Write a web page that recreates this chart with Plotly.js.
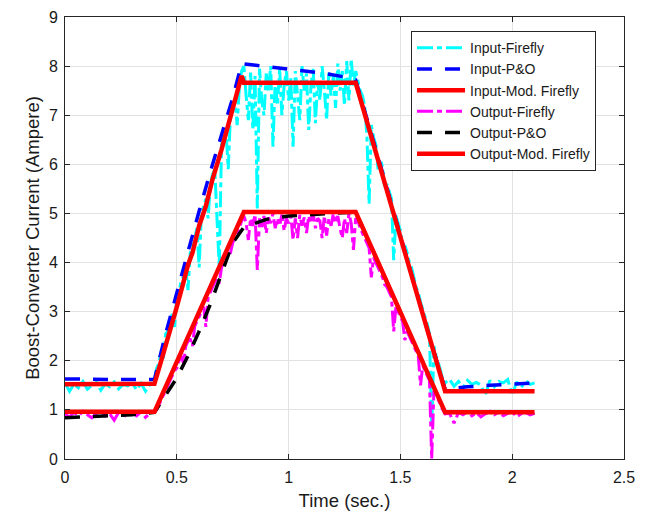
<!DOCTYPE html>
<html>
<head>
<meta charset="utf-8">
<script src="https://cdn.plot.ly/plotly-3.0.1.min.js"></script>
<style>html,body{margin:0;padding:0;background:#fff;}#chart{width:646px;height:514px;}</style>
</head>
<body>
<div id="chart"></div>
<script>
// Firefly sample times (s)
const tFirefly = [
  0,0.02,0.04,0.06,0.08,0.1,0.12,0.14,0.16,0.18,0.2,0.22,0.24,0.26,0.28,0.3,0.32,0.34,0.36,0.38,
  0.4,0.41,0.42,0.43,0.44,0.45,0.46,0.47,0.48,0.49,0.5,0.51,0.52,0.53,0.54,0.55,0.56,0.57,0.58,0.59,
  0.6,0.61,0.62,0.63,0.64,0.65,0.66,0.67,0.68,0.69,0.7,0.71,0.72,0.73,0.74,0.75,0.76,0.77,0.78,0.79,
  0.8,0.81,0.82,0.83,0.84,0.85,0.86,0.87,0.88,0.89,0.9,0.91,0.92,0.93,0.94,0.95,0.96,0.97,0.98,0.99,
  1.0,1.01,1.02,1.03,1.04,1.05,1.06,1.07,1.08,1.09,1.1,1.11,1.12,1.13,1.14,1.15,1.16,1.17,1.18,1.19,
  1.2,1.21,1.22,1.23,1.24,1.25,1.26,1.27,1.28,1.29,1.3,
  1.31,1.32,1.33,1.34,1.35,1.36,1.37,1.38,1.39,1.4,1.41,1.42,1.43,1.44,1.45,1.46,1.47,1.48,1.49,1.5,
  1.51,1.52,1.53,1.54,1.55,1.56,1.57,1.58,1.59,1.6,1.61,1.62,1.63,1.64,1.65,1.66,1.67,1.68,1.69,1.7,
  1.72,1.74,1.76,1.78,1.8,1.82,1.84,1.86,1.88,1.9,1.92,1.94,1.96,1.98,2.0,2.02,2.04,2.06,2.08,2.1
];
const inputFirefly = [
  1.55,1.38,1.52,1.45,1.58,1.42,1.50,1.56,1.40,1.53,1.47,1.57,1.43,1.52,1.49,1.55,1.41,1.54,1.38,1.52,
  1.6,1.85,1.95,2.2,2.05,2.55,2.6,2.85,2.95,2.69,3.3,3.4,3.65,3.7,3.9,3.44,4.2,4.4,4.5,4.7,
  3.9,5.0,5.15,5.3,4.9,5.6,5.8,5.9,4.87,3.9,6.4,6.55,6.7,5.9,7.0,7.2,7.3,6.8,7.6,7.9,
  8.0,7.4,6.9,7.9,6.7,7.8,5.1,7.95,7.3,7.0,7.85,7.5,8.0,6.36,7.7,7.2,7.95,7.0,7.6,7.9,
  7.3,7.75,6.36,7.9,7.4,6.9,8.0,7.5,7.85,6.7,7.6,7.95,6.84,7.7,7.3,8.0,7.5,6.9,7.9,7.4,
  7.8,7.15,8.05,7.5,7.9,7.2,8.1,7.3,8.15,7.6,7.9,
  7.7,7.5,7.4,7.2,6.6,5.2,6.8,6.55,6.4,5.9,6.1,5.95,5.5,5.6,5.45,5.3,4.05,4.95,4.8,4.65,
  4.3,4.35,4.2,4.0,3.9,3.7,3.5,3.4,3.2,3.05,2.9,2.75,2.55,0.65,2.3,2.1,1.95,1.8,1.6,1.55,
  1.62,1.48,1.58,1.45,1.6,1.52,1.56,1.5,1.3,1.6,1.47,1.58,1.55,1.62,1.3,1.57,1.45,1.6,1.52,1.55
];
const outputFirefly = [
  0.92,0.85,0.95,0.88,0.97,0.9,0.84,0.93,0.96,0.87,0.92,0.79,0.95,0.9,0.86,0.94,0.88,0.96,0.85,0.93,
  0.98,1.0,1.1,1.2,1.3,1.38,1.5,1.6,1.7,1.8,1.85,2.0,2.1,1.95,2.3,2.4,2.45,2.3,2.7,2.8,
  2.9,3.0,3.1,2.69,3.3,3.4,3.5,3.6,3.7,3.58,3.9,4.0,4.1,4.2,4.2,4.4,4.5,4.6,4.7,4.85,
  4.95,4.8,4.46,4.9,4.75,4.98,3.85,4.9,4.7,4.95,4.6,4.92,4.8,5.0,4.7,4.9,4.75,4.98,4.65,4.9,
  4.8,4.95,4.46,4.9,4.5,4.97,4.75,4.92,4.6,4.95,4.8,5.0,4.7,4.9,4.85,4.5,4.95,4.55,4.9,4.75,
  5.0,4.8,4.95,4.7,4.5,4.9,4.6,5.0,4.8,4.26,4.9,
  4.85,4.7,4.6,4.5,4.4,4.3,3.7,4.1,4.0,3.9,3.8,3.7,3.55,3.5,3.4,3.3,2.6,3.1,3.0,2.9,
  2.8,2.42,2.6,2.5,2.4,2.3,2.2,2.1,1.5,1.9,1.8,1.7,1.6,0.0,1.4,1.3,1.2,1.1,1.0,0.92,
  0.93,0.73,0.95,0.9,0.96,0.88,0.94,0.86,0.92,0.97,0.9,0.95,0.88,0.93,0.96,0.86,0.92,0.95,0.9,0.93
];
// P&O
const tInPO = [0,0.1,0.2,0.3,0.4,0.45,0.5,0.55,0.6,0.65,0.7,0.75,0.79,0.85,0.95,1.05,1.15,1.25,1.3,1.4,1.5,1.6,1.7,1.8,1.9,2.0,2.1];
const inputPO = [1.63,1.62,1.62,1.62,1.62,2.55,3.4,4.25,5.05,5.85,6.6,7.35,8.05,8.02,7.97,7.92,7.86,7.78,7.72,6.15,4.55,2.95,1.42,1.47,1.5,1.53,1.55];
const tOutPO = [0,0.1,0.2,0.3,0.4,0.45,0.5,0.55,0.6,0.65,0.7,0.75,0.8,0.9,1.0,1.1,1.2,1.3,1.7,1.8,1.9,2.0,2.1];
const outputPO = [0.84,0.86,0.88,0.9,0.95,1.3,1.65,2.1,2.6,3.15,3.75,4.4,4.72,4.88,4.95,4.98,5.0,5.03,0.95,0.95,0.96,0.95,0.95];
// Modified Firefly
const tInMod = [0,0.4,0.44,0.46,0.48,0.5,0.53,0.55,0.57,0.6,0.63,0.66,0.7,0.73,0.76,0.78,0.79,0.8,1.3,1.7,2.1];
const inputMod = [1.52,1.53,2.15,2.45,2.8,3.1,3.6,3.95,4.2,4.75,5.15,5.7,6.3,6.8,7.25,7.55,7.8,7.66,7.66,1.38,1.38];
const tOutMod = [0,0.4,0.8,1.3,1.7,2.1];
const outputMod = [0.96,0.96,5.03,5.03,0.95,0.95];

const xRange = [0,2.5];
const yRange = [0,9];
const xTicks = [0,0.5,1,1.5,2,2.5];
const xTickText = ['0','0.5','1','1.5','2','2.5'];
const yTicks = [0,1,2,3,4,5,6,7,8,9];

const FONT = 'Liberation Sans, Arial, Helvetica, sans-serif';
const TXT = '#1a1a1a';
const dashDot = '16px,4px,5px,4px';
const longDash = '15px,13px';

const traces = [
  {x:tFirefly, y:inputFirefly, name:'Input-Firefly', mode:'lines', line:{color:'#00FFFF', width:3, dash:dashDot, simplify:false}},
  {x:tInPO, y:inputPO, name:'Input-P&O', mode:'lines', line:{color:'#0000FF', width:3.5, dash:longDash}},
  {x:tInMod, y:inputMod, name:'Input-Mod. Firefly', mode:'lines', line:{color:'#FF0000', width:4.5}},
  {x:tFirefly, y:outputFirefly, name:'Output-Firefly', mode:'lines', line:{color:'#FF00FF', width:3, dash:dashDot, simplify:false}},
  {x:tOutPO, y:outputPO, name:'Output-P&O', mode:'lines', line:{color:'#000000', width:3.5, dash:longDash}},
  {x:tOutMod, y:outputMod, name:'Output-Mod. Firefly', mode:'lines', xaxis:'x2', yaxis:'y2', line:{color:'#FF0000', width:4.5}}
];

// main axes: box, grid and inside ticks (no labels)
const boxAxis = {
  showgrid:true, gridcolor:'#e2e2e2', gridwidth:1,
  zeroline:false, showline:true, linecolor:'#262626', linewidth:1, mirror:'ticks',
  ticks:'inside', ticklen:5, tickwidth:1, tickcolor:'#262626',
  showticklabels:false
};
// label axes: same scale, carry tick labels and titles
const labelAxis = {
  showgrid:false, zeroline:false, showline:false,
  ticks:'outside', tickwidth:1, tickcolor:'rgba(0,0,0,0)',
  tickfont:{family:FONT, size:16, color:TXT}
};

const layout = {
  width:646, height:514,
  margin:{l:65, r:22, t:17, b:55},
  paper_bgcolor:'#ffffff', plot_bgcolor:'#ffffff',
  font:{family:FONT, color:TXT},
  showlegend:true,
  legend:{x:0.619, y:0.968, xanchor:'left', yanchor:'top', bgcolor:'#ffffff',
          bordercolor:'#262626', borderwidth:1, font:{family:FONT, size:14, color:TXT},
          itemwidth:48, tracegroupgap:0},
  xaxis:Object.assign({}, boxAxis, {range:xRange, tickvals:xTicks}),
  yaxis:Object.assign({}, boxAxis, {range:yRange, tickvals:yTicks}),
  xaxis2:Object.assign({}, labelAxis, {overlaying:'x', anchor:'y2', side:'bottom', range:xRange,
          tickvals:xTicks, ticktext:xTickText, ticklen:4,
          title:{text:'Time (sec.)', font:{family:FONT, size:18.5, color:TXT}, standoff:8}}),
  yaxis2:Object.assign({}, labelAxis, {overlaying:'y', anchor:'x2', side:'left', range:yRange,
          tickvals:yTicks, ticklen:3,
          title:{text:'Boost-Converter Current (Ampere)', font:{family:FONT, size:18.5, color:TXT}, standoff:4}})
};

Plotly.newPlot('chart', traces, layout, {displayModeBar:false, staticPlot:true});
</script>
</body>
</html>
